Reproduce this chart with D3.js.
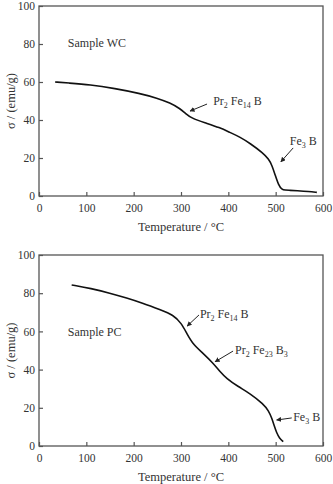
<!DOCTYPE html>
<html>
<head>
<meta charset="utf-8">
<script src="https://cdn.jsdelivr.net/npm/d3@7"></script>
<style>
  body { margin: 0; background: #fff; }
  svg text { font-family: "Liberation Serif", "Times New Roman", serif; }
</style>
</head>
<body>
<div id="chart"></div>
<script>
// sample WC
const wcTemp = [34, 60, 108, 160, 213, 250, 277, 298, 310, 322, 350, 382, 403, 425, 446, 474, 485, 492, 499, 506, 513, 520, 530, 544, 570, 587];
const wcSigma = [60, 59.5, 58.6, 56.6, 54, 51.5, 49, 46, 43.3, 41, 38.6, 36, 33.5, 31, 27.7, 22.5, 19.5, 16.3, 11, 5.8, 3.4, 3.1, 3, 2.8, 2.4, 1.9];

// sample PC
const pcTemp = [69, 110, 150, 185, 220, 256, 284, 301, 312, 326, 347, 368, 382, 396, 420, 446, 474, 485, 492, 497, 502, 508, 516];
const pcSigma = [84.3, 82.5, 80, 77.5, 74.7, 71.3, 68.6, 64.2, 59, 53, 48.5, 43.3, 39, 35.4, 31.2, 27.5, 22, 18.5, 14.5, 10.5, 7, 4, 2.3];

const xTicks = [0, 100, 200, 300, 400, 500, 600];
const yTicks = [0, 20, 40, 60, 80, 100];

const width = 333, height = 484;
const left = 39, right = 323;
const serif = "Liberation Serif, Times New Roman, serif";

const svg = d3.select("#chart").append("svg")
    .attr("width", width)
    .attr("height", height);

svg.append("defs").append("marker")
    .attr("id", "arrow")
    .attr("viewBox", "0 0 10 10")
    .attr("refX", 9).attr("refY", 5)
    .attr("markerWidth", 5).attr("markerHeight", 5)
    .attr("orient", "auto")
    .append("path")
    .attr("d", "M0,0 L10,5 L0,10 z")
    .attr("fill", "#222");

// label with subscripts: parts = [[text, isSub], ...]
function richText(g, x, y, parts) {
    const t = g.append("text")
        .attr("x", x).attr("y", y)
        .attr("font-family", serif)
        .attr("font-size", 12)
        .attr("fill", "#333");
    parts.forEach((p, i) => {
        const ts = t.append("tspan").text(p[0]);
        const prevSub = i > 0 && parts[i - 1][1];
        if (p[1]) ts.attr("font-size", 8);
        if (p[1] && !prevSub) ts.attr("dy", 3);
        else if (!p[1] && prevSub) ts.attr("dy", -3);
    });
    return t;
}

function drawPanel(top, bottom, temps, sigmas, notes) {
    const x = d3.scaleLinear().domain([0, 600]).range([left, right]);
    const y = d3.scaleLinear().domain([0, 100]).range([bottom, top]);
    const g = svg.append("g");

    // frame
    g.append("rect")
        .attr("x", left).attr("y", top)
        .attr("width", right - left).attr("height", bottom - top)
        .attr("fill", "none")
        .attr("stroke", "#555")
        .attr("stroke-width", 1.3);

    const xAxis = g.append("g")
        .attr("transform", "translate(0," + bottom + ")")
        .call(d3.axisBottom(x).tickValues(xTicks).tickSizeInner(-4).tickSizeOuter(0).tickPadding(8));
    const yAxis = g.append("g")
        .attr("transform", "translate(" + left + ",0)")
        .call(d3.axisLeft(y).tickValues(yTicks).tickSizeInner(-4).tickSizeOuter(0).tickPadding(4));

    [xAxis, yAxis].forEach(a => {
        a.attr("font-family", serif);
        a.select(".domain").remove();
        a.selectAll(".tick line").attr("stroke", "#555").attr("stroke-width", 1.2);
        a.selectAll(".tick text")
            .attr("font-size", 11.5)
            .attr("fill", "#333");
    });

    g.append("text")
        .attr("x", (left + right) / 2)
        .attr("y", bottom + 35)
        .attr("text-anchor", "middle")
        .attr("font-family", serif)
        .attr("font-size", 12.5)
        .attr("fill", "#333")
        .text("Temperature / °C");

    g.append("text")
        .attr("transform", "translate(15," + ((top + bottom) / 2) + ") rotate(-90)")
        .attr("text-anchor", "middle")
        .attr("font-family", serif)
        .attr("font-size", 12.5)
        .attr("fill", "#333")
        .text("σ / (emu/g)");

    const pts = temps.map((t, i) => [t, sigmas[i]]);
    g.append("path")
        .datum(pts)
        .attr("fill", "none")
        .attr("stroke", "#111")
        .attr("stroke-width", 1.6)
        .attr("d", d3.line().x(d => x(d[0])).y(d => y(d[1])).curve(d3.curveBasis));

    notes.forEach(n => {
        richText(g, x(n.at[0]), y(n.at[1]), n.parts);
        if (n.from) {
            g.append("line")
                .attr("x1", x(n.from[0])).attr("y1", y(n.from[1]))
                .attr("x2", x(n.to[0])).attr("y2", y(n.to[1]))
                .attr("stroke", "#222")
                .attr("stroke-width", 1)
                .attr("marker-end", "url(#arrow)");
        }
    });
}

drawPanel(6, 196, wcTemp, wcSigma, [
    {at: [61, 78.4], parts: [["Sample WC", false]]},
    {at: [368, 47.9], parts: [["Pr", false], ["2", true], [" Fe", false], ["14", true], [" B", false]],
     from: [355, 48.4], to: [319, 44.7]},
    {at: [530, 26.8], parts: [["Fe", false], ["3", true], [" B", false]],
     from: [537, 25.3], to: [511, 18]}
]);

drawPanel(255, 446, pcTemp, pcSigma, [
    {at: [61, 57.6], parts: [["Sample PC", false]]},
    {at: [340, 67], parts: [["Pr", false], ["2", true], [" Fe", false], ["14", true], [" B", false]],
     from: [338, 68.6], to: [313, 62.8]},
    {at: [414, 48.2], parts: [["Pr", false], ["2", true], [" Fe", false], ["23", true], [" B", false], ["3", true]],
     from: [410, 49.7], to: [372, 44.1]},
    {at: [537, 13.1], parts: [["Fe", false], ["3", true], [" B", false]],
     from: [534, 14.7], to: [502, 13.6]}
]);
</script>
</body>
</html>
